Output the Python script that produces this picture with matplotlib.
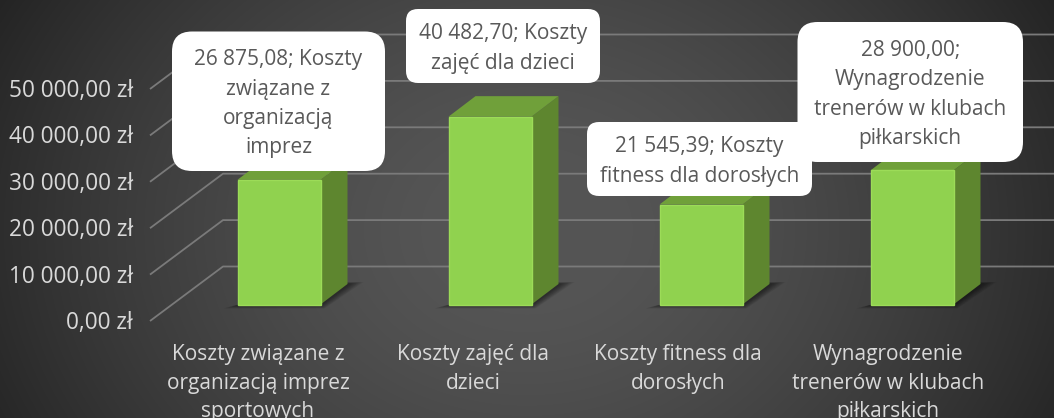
import numpy as np
import matplotlib
matplotlib.use("Agg")
import matplotlib.pyplot as plt
from matplotlib.patches import FancyBboxPatch, Polygon
from matplotlib.transforms import Affine2D

categories = ["Koszty związane z\norganizacją imprez\nsportowych",
              "Koszty zajęć dla\ndzieci",
              "Koszty fitness dla\ndorosłych",
              "Wynagrodzenie\ntrenerów w klubach\npiłkarskich"]
values = [26875.08, 40482.70, 21545.39, 28900.00]
data_labels = ["26 875,08; Koszty\nzwiązane z\norganizacją\nimprez",
               "40 482,70; Koszty\nzajęć dla dzieci",
               "21 545,39; Koszty\nfitness dla dorosłych",
               "28 900,00;\nWynagrodzenie\ntrenerów w klubach\npiłkarskich"]
tick_values = [0, 10000, 20000, 30000, 40000, 50000]
tick_labels = ["0,00 zł", "10 000,00 zł", "20 000,00 zł", "30 000,00 zł", "40 000,00 zł", "50 000,00 zł"]

W, H = 1054, 418
plt.rcParams['font.family'] = ['Open Sans', 'DejaVu Sans']
fig = plt.figure(figsize=(W/100, H/100), dpi=100)
ax = fig.add_axes([0, 0, 1, 1])
ax.axis('off')

X0, DX = 279.0, 211.0       # px of first category, px per category
Y0, SY = 304.5, 0.00464     # px of value 0 on bar plane, px per unit
xlim = (-X0/DX, (W-X0)/DX)
ylim = ((Y0-H)/SY, Y0/SY)
ddx = lambda p: p/DX
ddy = lambda p: p/SY
xd = lambda p: (p-X0)/DX

# background radial gradient
yy, xx = np.mgrid[0:H, 0:W]
r = np.sqrt(((xx-W*0.5)/(W*0.62))**2 + ((yy-H*0.55)/(H*1.25))**2)
g = np.clip(0.335 - 0.26*np.clip(r-0.12, 0, None)**1.4, 0, 1)
ax.imshow(g, cmap='gray', vmin=0, vmax=1, aspect='auto', zorder=0,
          extent=[xlim[0], xlim[1], ylim[0], ylim[1]], origin='upper')
ax.set_xlim(*xlim)
ax.set_ylim(*ylim)

# walls: ticks sit 16.5 px below the bar plane, back wall 38 px above
GRID = '#7a7a7a'
for v, lab in zip(tick_values, tick_labels):
    yf = v - ddy(16.5)
    yb = v + ddy(38)
    ax.plot([xd(150), xd(223), xd(W)], [yf, yb, yb], color=GRID, lw=1.3, zorder=1, solid_capstyle='butt')
    ax.text(xd(133), yf - ddy(2), lab, ha='right', va='center', color='#d9d9d9', fontsize=16.3, zorder=6)

# bars
BW = 83/211
dpx, dpy = 27, 20.5
for i, v in enumerate(values):
    l, r_ = i-BW/2, i+BW/2
    # soft floor shadow
    for k in np.linspace(1, 0.2, 9):
        sh = Polygon([(l-ddx(14*k), -ddy(4*k)), (r_+ddx(4*k), -ddy(4*k)),
                      (r_+ddx(dpx+16*k), ddy(dpy+2*k)), (r_+ddx(dpx-10), ddy(dpy+2*k))],
                     closed=True, fc='black', ec='none', alpha=0.06, zorder=2)
        ax.add_patch(sh)
    ax.add_patch(Polygon([(r_, 0), (r_+ddx(dpx), ddy(dpy)), (r_+ddx(dpx), v+ddy(dpy)), (r_, v)],
                         closed=True, fc='#5e862f', ec='none', zorder=3))
    ax.add_patch(Polygon([(l, v), (l+ddx(dpx), v+ddy(dpy)), (r_+ddx(dpx), v+ddy(dpy)), (r_, v)],
                         closed=True, fc='#70a03a', ec='none', zorder=3))
ax.bar(range(len(values)), values, width=BW, color='#90d24f', edgecolor='#9cdc58', linewidth=1.0, zorder=4)

# category labels
label_x = [258, 473, 678, 888]
for x, c in zip(label_x, categories):
    ax.text(xd(x), -ddy(344-Y0), c, ha='center', va='top', color='#d9d9d9',
            fontsize=15, linespacing=1.48, zorder=6)

# data-label callouts (pixel layout)
px = Affine2D().scale(1, -1).translate(0, H)
boxes = [(172, 31.5, 213, 139.5, 20), (406, 9, 194, 74, 12), (587, 122, 225, 74, 12), (797.5, 22, 225.5, 140, 20)]
for (x, y, w, h, rad), t in zip(boxes, data_labels):
    ax.add_patch(FancyBboxPatch((x+rad, y+rad), w-2*rad, h-2*rad, boxstyle=f"round,pad={rad},rounding_size={rad}",
                                fc='white', ec='none', transform=px, zorder=5))
    ax.text(x+w/2, y+h/2+2.5, t, transform=px, ha='center', va='center', color='#595959',
            fontsize=15, linespacing=1.52, zorder=6)

fig.savefig('out.png', dpi=100, facecolor='#3a3a3a')
